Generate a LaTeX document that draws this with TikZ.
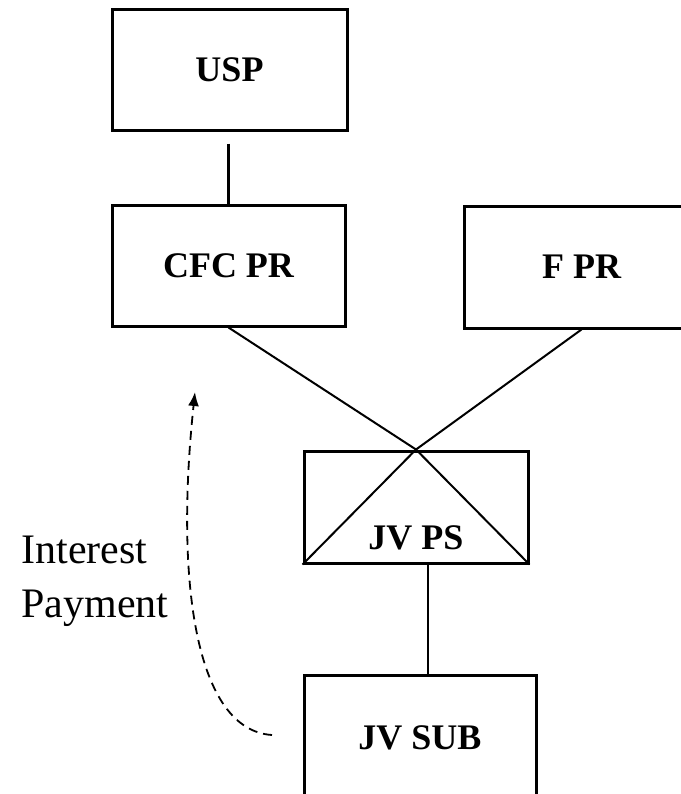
\documentclass[tikz,border=0pt]{standalone}
\usepackage{fontspec}
\setmainfont{Liberation Serif}
\usetikzlibrary{arrows.meta,calc}

\begin{document}
\begin{tikzpicture}[x=0.5pt,y=-0.5pt,>=Latex,
entity/.style={draw=black,line width=1.5pt,inner sep=0pt,font=\fontsize{18}{22}\selectfont\bfseries},
owner/.style={draw=black,line width=1.4pt},
split/.style={draw=black,line width=1pt},
payflow/.style={-{Latex[length=7pt,width=5.5pt]},draw=black,line width=0.9pt,dash pattern=on 4.5pt off 3pt}]
\useasboundingbox (0,0) rectangle (681,794);
\clip (0,0) rectangle (681,794);
\node[entity,minimum width=117.5pt,minimum height=60.5pt] (usp) at (229.5,69.5) {USP};
\node[entity,minimum width=116.5pt,minimum height=60.5pt] (cfc) at (228.5,265.5) {CFC PR};
\node[entity,minimum width=117.5pt,minimum height=61pt] (fpr) at (581.5,267) {F PR};
\node[entity,minimum width=112pt,minimum height=56pt,
  label={[anchor=base,yshift=7.5pt,font=\fontsize{18}{22}\selectfont\bfseries]south:JV PS}] (jvps) at (416,507) {};
\node[entity,minimum width=116pt,minimum height=63pt] (jvsub) at (420,738) {JV SUB};
\node[inner sep=0pt,align=left,anchor=base west,font=\fontsize{21}{27}\selectfont] (paytext) at (21,617) {Interest\\Payment};
\coordinate (paystart) at (272,735);
\coordinate (payend) at (195,392);
% ownership links
\draw[owner] ([yshift=-6pt]cfc.north |- usp.south)--(cfc.north);
\draw[split] (cfc.south)--(jvps.north);
\draw[split] (fpr.south)--(jvps.north);
\draw[split] (jvps.north)--(jvps.south west);
\draw[split] (jvps.north)--(jvps.south east);
\draw[owner] ([xshift=6pt]jvps.south)--([xshift=6pt]jvps.south |- jvsub.north);
% interest flow
\draw[payflow] (paystart) .. controls (195,730) and (175,580) .. (payend);
\end{tikzpicture}
\end{document}
